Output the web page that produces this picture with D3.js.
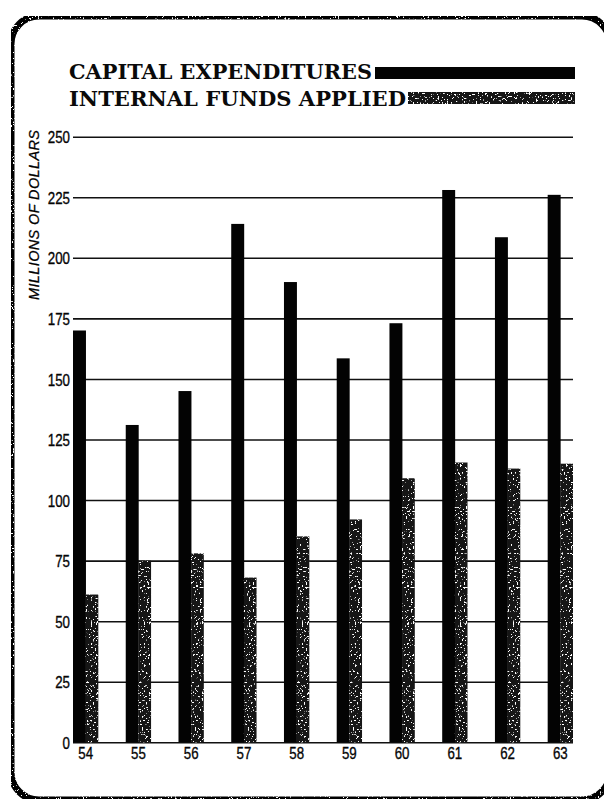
<!DOCTYPE html>
<html>
<head>
<meta charset="utf-8">
<script src="https://cdn.jsdelivr.net/npm/d3@7"></script>
<style>
  html, body { margin: 0; padding: 0; background: #fff; }
  svg { display: block; }
</style>
</head>
<body>
<script>
// Capital expenditures vs. internal funds applied, 1954-1963 (millions of dollars)
const years = ["54", "55", "56", "57", "58", "59", "60", "61", "62", "63"];
const capitalExpenditures = [170, 131, 145, 214, 190, 158.5, 173, 228, 208.5, 226];
const internalFunds = [61, 75, 78, 68, 85, 92, 109, 115.5, 113, 115];
const yTicks = [0, 25, 50, 75, 100, 125, 150, 175, 200, 225, 250];
const seriesNames = ["CAPITAL EXPENDITURES", "INTERNAL FUNDS APPLIED"];

const W = 604, H = 799;
const digitWidth = 7.4; // condensed figures
const svg = d3.select("body").append("svg").attr("width", W).attr("height", H);

// speckle texture: scatter white flecks over a dark fill
const defs = svg.append("defs");
function speckle(id, freq, cut, seed) {
  const f = defs.append("filter").attr("id", id)
    .attr("x", 0).attr("y", 0).attr("width", 1).attr("height", 1)
    .attr("filterUnits", "objectBoundingBox");
  f.append("feTurbulence").attr("type", "fractalNoise")
    .attr("baseFrequency", freq).attr("numOctaves", 2).attr("seed", seed).attr("result", "noise");
  f.append("feColorMatrix").attr("in", "noise").attr("type", "matrix")
    .attr("values", `0 0 0 0 1  0 0 0 0 1  0 0 0 0 1  -18 0 0 0 ${cut}`).attr("result", "flecks");
  f.append("feComposite").attr("in", "flecks").attr("in2", "SourceGraphic")
    .attr("operator", "in").attr("result", "flecksIn");
  const m = f.append("feMerge");
  m.append("feMergeNode").attr("in", "SourceGraphic");
  m.append("feMergeNode").attr("in", "flecksIn");
}
speckle("grain", 0.55, 6.6, 4);
speckle("frameGrain", 0.6, 6.2, 9);

const colors = { capex: "#030303", internal: "#141414" };

// rounded frame around the whole chart
svg.append("rect")
  .attr("x", 11).attr("y", 16).attr("width", 599).attr("height", 784).attr("rx", 28)
  .attr("fill", "none").attr("stroke", "#050505").attr("stroke-width", 7)
  .attr("filter", "url(#frameGrain)");

// scales
const plot = { left: 73, right: 573, top: 136.7, bottom: 742.3 };
const y = d3.scaleLinear().domain([0, 250]).range([plot.bottom, plot.top]);
const x = d3.scaleBand().domain(years).range([plot.left, plot.right]).paddingInner(0.52).paddingOuter(0);
const sub = d3.scaleBand().domain(["capex", "internal"]).range([0, x.bandwidth()]);

function figureStyle(sel) {
  sel.style("font-family", "'Liberation Sans', Arial, sans-serif")
    .style("font-size", "17px").style("fill", "#050505")
    .style("stroke", "#050505").style("stroke-width", "0.35px")
    .attr("textLength", d => String(d).length * digitWidth)
    .attr("lengthAdjust", "spacingAndGlyphs");
}

// gridlines + y labels
const yAxis = svg.append("g")
  .attr("transform", `translate(${plot.left},0)`)
  .call(d3.axisLeft(y).tickValues(yTicks).tickSize(-(plot.right - plot.left)).tickPadding(3).tickFormat(d3.format("d")));
yAxis.select(".domain").remove();
yAxis.selectAll("line").attr("stroke", "#111").attr("stroke-width", 1.6);
yAxis.selectAll("text").attr("dy", "0.36em").call(figureStyle);

// x labels
const xAxis = svg.append("g")
  .attr("transform", `translate(0,${plot.bottom})`)
  .call(d3.axisBottom(x).tickSize(0).tickPadding(5));
xAxis.select(".domain").remove();
xAxis.selectAll("text").call(figureStyle);

// bars
const groups = svg.append("g").selectAll("g").data(years).join("g")
  .attr("transform", d => `translate(${x(d)},0)`);
groups.append("rect")
  .attr("x", sub("capex")).attr("width", sub.bandwidth() + 0.3)
  .attr("y", (d, i) => y(capitalExpenditures[i]))
  .attr("height", (d, i) => y(0) - y(capitalExpenditures[i]))
  .attr("fill", colors.capex);
groups.append("rect")
  .attr("x", sub("internal")).attr("width", sub.bandwidth())
  .attr("y", (d, i) => y(internalFunds[i]))
  .attr("height", (d, i) => y(0) - y(internalFunds[i]))
  .attr("fill", colors.internal)
  .attr("filter", "url(#grain)");

// y axis title
svg.append("text")
  .attr("transform", "translate(39,215) rotate(-90)")
  .attr("text-anchor", "middle")
  .attr("textLength", 170).attr("lengthAdjust", "spacing")
  .style("font-family", "'Liberation Sans', Arial, sans-serif")
  .style("font-style", "italic").style("font-size", "14.5px").style("fill", "#000")
  .style("stroke", "#000").style("stroke-width", "0.25px")
  .text("MILLIONS OF DOLLARS");

// legend
const legend = [
  { name: seriesNames[0], baseline: 79, textEnd: 372, barStart: 375, barTop: 67, fill: colors.capex, filter: null },
  { name: seriesNames[1], baseline: 106, textEnd: 406, barStart: 408, barTop: 92, fill: colors.internal, filter: "url(#grain)" }
];
const lg = svg.append("g").selectAll("g").data(legend).join("g");
lg.append("text")
  .attr("x", 69).attr("y", d => d.baseline)
  .attr("textLength", d => d.textEnd - 69).attr("lengthAdjust", "spacingAndGlyphs")
  .style("font-family", "'DejaVu Serif', 'Liberation Serif', serif")
  .style("font-weight", "bold").style("font-size", "19.5px").style("fill", "#0a0a0a")
  .text(d => d.name);
lg.append("rect")
  .attr("x", d => d.barStart).attr("y", d => d.barTop)
  .attr("width", d => 575 - d.barStart).attr("height", 12)
  .attr("fill", d => d.fill)
  .attr("filter", d => d.filter);
</script>
</body>
</html>
